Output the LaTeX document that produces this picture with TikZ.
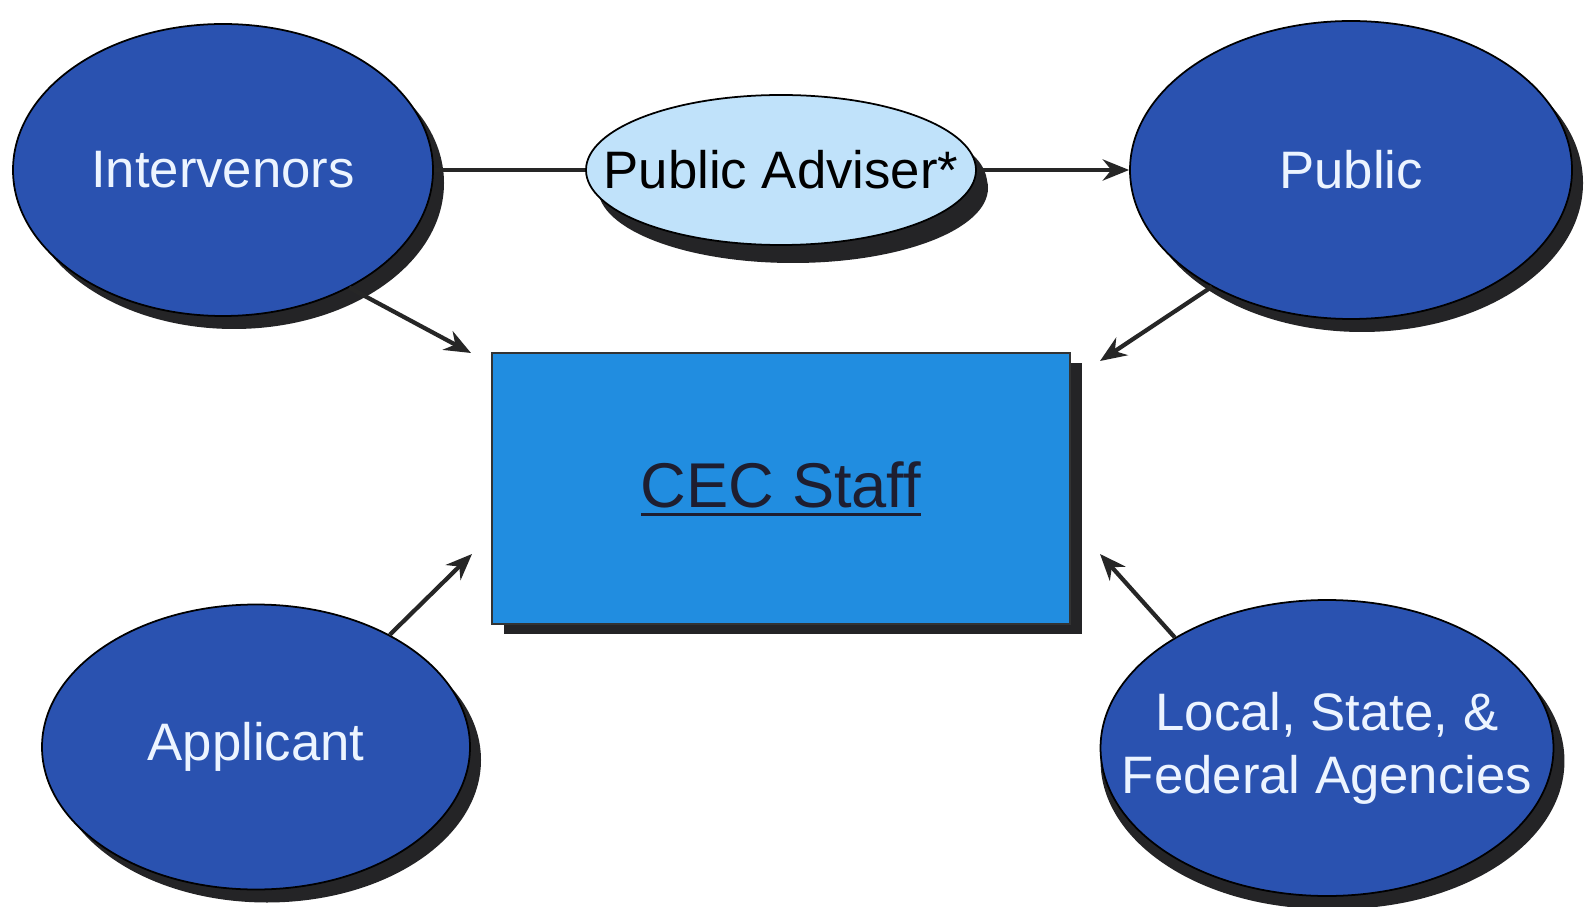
\documentclass[tikz,border=0pt]{standalone}
\usepackage{fontspec}
\setmainfont{Liberation Sans}
\usetikzlibrary{arrows.meta, shapes.geometric, shadows}
\newcommand{\subraya}[1]{\vtop{\hbox{#1}\kern3pt\hrule height 1.6pt}}
\definecolor{azulote}{RGB}{42,82,176}
\definecolor{azulcec}{RGB}{33,141,224}
\definecolor{celeste}{RGB}{192,226,250}
\definecolor{sombra}{RGB}{36,36,38}
\definecolor{blanquito}{RGB}{236,244,255}
\definecolor{tintacec}{RGB}{30,30,48}
\tikzset{>={Stealth[length=15pt,width=12pt]}}
\tikzset{
	party/.style={ellipse, draw=black, line width=1pt, fill=azulote, text=blanquito, inner sep=0pt, align=center, font=\fontsize{30}{36}\selectfont, drop shadow={shadow xshift=0.22cm, shadow yshift=-0.26cm, fill=sombra, opacity=1}},
	link/.style={line width=2.4pt, black!85}
}

\begin{document}
\begin{tikzpicture}

	\fill [white] (0,0) rectangle (31.7,18.12);
	\useasboundingbox (0,0) rectangle (31.7,18.12);

	% the four parties
	\node [party, minimum width=8.4cm, minimum height=5.84cm] (interv) at (4.46,14.72) {Intervenors};
	\node [party, minimum width=8.84cm, minimum height=5.96cm] (public) at (27.02,14.72) {Public};
	\node [party, minimum width=8.56cm, minimum height=5.7cm] (appl) at (5.12,3.18) {Applicant};
	\node [party, minimum width=9cm, minimum height=5.92cm, inner xsep=-0.9cm, drop shadow={shadow xshift=0cm, shadow yshift=-0.26cm, fill=sombra, opacity=1}] (local) at (26.54,3.16) {Local, State, \&\\Federal Agencies};

	% adviser in between
	\node [party, fill=celeste, text=black, minimum width=7.8cm, minimum height=3cm, inner xsep=-1cm, drop shadow={shadow xshift=0.24cm, shadow yshift=-0.36cm, fill=sombra, opacity=1}] (adviser) at (15.62,14.72) {Public Adviser*};

	% staff box
	\node [rectangle, draw=black!80, line width=0.8pt, fill=azulcec, text=tintacec, minimum width=11.56cm, minimum height=5.42cm, font=\fontsize{36}{42}\selectfont, drop shadow={shadow xshift=0.24cm, shadow yshift=-0.2cm, fill=sombra, opacity=1}] (staff) at (15.62,8.35) {\subraya{CEC Staff}};

	\coordinate (tipIntv) at (9.42,11.06);
	\coordinate (tipPub) at (22,10.9);
	\coordinate (tipAppl) at (9.44,7.04);
	\coordinate (tipLocal) at (22,7.04);

	\draw [link] (interv) -- (adviser);
	\draw [link,->] (adviser) -- (public);

	\draw [link,->] (interv.-43) -- (tipIntv);
	\draw [link,->] (public.-140) -- (tipPub);
	\draw [link,->] (appl.40) -- (tipAppl);
	\draw [link,->] (local.144) -- (tipLocal);

\end{tikzpicture}
\end{document}
